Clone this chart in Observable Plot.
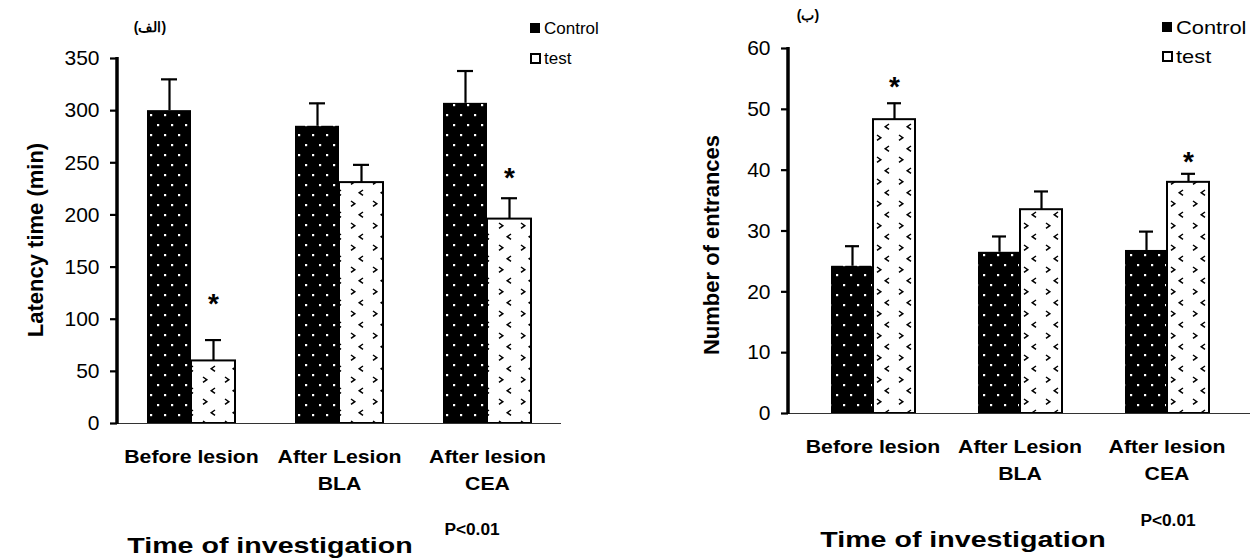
<!DOCTYPE html>
<html><head><meta charset="utf-8">
<script src="https://cdn.jsdelivr.net/npm/d3@7"></script>
<script src="https://cdn.jsdelivr.net/npm/@observablehq/plot@0.6"></script>
<style>
body{margin:0;background:#fff;font-family:"Liberation Sans",Arial,sans-serif;}
#wrap{position:relative;width:1253px;height:560px;overflow:hidden;background:#fff;}
.abs{position:absolute;white-space:nowrap;color:#000;line-height:1;}
</style></head><body><div id="wrap"></div>
<script>
// ---------- data ----------
const categories = ["Before lesion", "After Lesion\nBLA", "After lesion\nCEA"];
const series = ["Control", "test"];

const latencyControl    = [300, 285, 307];
const latencyControlErr = [30, 22, 31];
const latencyTest       = [60, 231, 196];
const latencyTestErr    = [20, 17, 20];
const latencyStars      = [122, null, 243];
const latencyTicks      = [0, 50, 100, 150, 200, 250, 300, 350];

const entrancesControl    = [24.2, 26.5, 26.8];
const entrancesControlErr = [3.3, 2.6, 3.1];
const entrancesTest       = [48.3, 33.5, 38.0];
const entrancesTestErr    = [2.7, 3.0, 1.4];
const entrancesStars      = [55, null, 42.6];
const entrancesTicks      = [0, 10, 20, 30, 40, 50, 60];

function rows(ctrl, ctrlErr, test, testErr, stars) {
  return categories.flatMap((c, i) => [
    {cat: c, series: series[0], value: ctrl[i], err: ctrlErr[i], star: null},
    {cat: c, series: series[1], value: test[i], err: testErr[i], star: stars[i]}
  ]);
}
const latencyData = rows(latencyControl, latencyControlErr, latencyTest, latencyTestErr, latencyStars);
const entranceData = rows(entrancesControl, entrancesControlErr, entrancesTest, entrancesTestErr, entrancesStars);

// ---------- drawing ----------
const wrap = document.getElementById("wrap");
const FONT = "Liberation Sans, Arial, sans-serif";

function defs() {
  return `<defs>
  <pattern id="dotPat" width="14" height="20" patternUnits="userSpaceOnUse">
    <rect width="14" height="20" fill="#000"/>
    <rect x="3" y="4" width="2.2" height="2.2" fill="#fff"/>
    <rect x="10" y="14" width="2.2" height="2.2" fill="#fff"/>
  </pattern>
  <pattern id="chevPat" width="22" height="22" patternUnits="userSpaceOnUse">
    <rect width="22" height="22" fill="#fff"/>
    <path d="M5,3 L8.8,5.7 L5,8.4" fill="none" stroke="#000" stroke-width="1.5"/>
    <path d="M17,14 L13.2,16.7 L17,19.4" fill="none" stroke="#000" stroke-width="1.5"/>
  </pattern></defs>`;
}

function panel(o) {
  const plot = Plot.plot({
    width: o.width, height: o.height,
    marginLeft: o.marginLeft, marginRight: o.marginRight,
    marginTop: o.marginTop, marginBottom: o.marginBottom,
    style: {fontFamily: FONT, color: "#000", background: "transparent", overflow: "visible"},
    fx: {domain: categories, padding: 0, label: null},
    x: {domain: series, paddingInner: 0, paddingOuter: o.xPadOuter, align: o.xAlign, axis: null},
    y: {domain: o.yDomain, label: null},
    marks: [
      Plot.axisY({ticks: o.ticks, tickSize: 7, tickPadding: 11, fontSize: 21, strokeWidth: 2.2, label: null}),
      Plot.axisFx({anchor: "bottom", tickSize: 0, tickPadding: o.catPad, dx: o.catDx, fontSize: 18, fontWeight: "bold", lineHeight: 1.5, label: null}),
      Plot.barY(o.data.filter(d => d.series === series[0]), {fx: "cat", x: "series", y: "value", fill: "url(#dotPat)"}),
      Plot.barY(o.data.filter(d => d.series === series[1]), {fx: "cat", x: "series", y: "value", fill: "url(#chevPat)", stroke: "#000", strokeWidth: 2}),
      Plot.ruleX(o.data, {fx: "cat", x: "series", y1: "value", y2: d => d.value + d.err, stroke: "#000", strokeWidth: 2.2}),
      Plot.tickY(o.data, {fx: "cat", x: "series", y: d => d.value + d.err, stroke: "#000", strokeWidth: 2.2, insetLeft: 14, insetRight: 14}),
      Plot.text(o.data.filter(d => d.star != null), {fx: "cat", x: "series", y: "star", text: () => "*", fontSize: 28, fontWeight: "bold", dy: 8})
    ]
  });
  plot.style.position = "absolute";
  plot.style.top = "0px";
  plot.style.left = o.left + "px";
  plot.insertAdjacentHTML("afterbegin", defs());
  const ys = plot.scale("y");
  const [yb, yt] = ys.range;
  const svg = d3.select(plot);
  // widen category tick labels like the reference's stretched type
  svg.selectAll('g[aria-label="fx-axis tick label"] text').each(function() {
    const t = this.getAttribute("transform") || "";
    this.setAttribute("transform", t + " scale(1.18,1)");
  });
  svg.append("line").attr("x1", o.marginLeft).attr("x2", o.width - o.marginRight + o.baseExtend)
    .attr("y1", yb + 0.5).attr("y2", yb + 0.5).attr("stroke", "#333").attr("stroke-width", 1.2);
  svg.append("line").attr("x1", o.marginLeft).attr("x2", o.marginLeft)
    .attr("y1", yb + 1).attr("y2", yt - 1).attr("stroke", "#000").attr("stroke-width", 3.5);
  wrap.appendChild(plot);
}

panel({data: latencyData, yDomain: [0, 350], ticks: latencyTicks, left: 0,
  width: 630, height: 503, marginLeft: 117, marginRight: 69, marginTop: 58, marginBottom: 80,
  xPadOuter: 0.68, xAlign: 0.5, catPad: 20, catDx: 0, baseExtend: 0});
panel({data: entranceData, yDomain: [0, 60], ticks: entrancesTicks, left: 630,
  width: 623, height: 493, marginLeft: 158, marginRight: 24, marginTop: 48, marginBottom: 80,
  xPadOuter: 0.71, xAlign: 0.69, catPad: 20, catDx: 11, baseExtend: 21});

function txt(s, x, y, size, weight, opts = {}) {
  const d = document.createElement("div");
  d.className = "abs";
  d.style.left = x + "px"; d.style.top = y + "px";
  d.style.fontSize = size + "px"; d.style.fontWeight = weight;
  const sx = opts.sx || 1;
  d.style.transform = opts.rot
    ? `translate(-50%,-50%) rotate(-90deg) scale(${sx},1)`
    : opts.left ? `translateY(-50%) scale(${sx},1)` : `translate(-50%,-50%) scale(${sx},1)`;
  if (opts.left) d.style.transformOrigin = "0 50%";
  if (opts.rtl) d.setAttribute("dir", "rtl");
  d.textContent = s;
  wrap.appendChild(d);
  return d;
}
// panel titles
txt("(الف)", 150, 27, 14, "bold", {rtl: true});
txt("(ب)", 808, 15, 14, "bold", {rtl: true});
// axis titles
txt("Latency time (min)", 36, 240, 22, "bold", {rot: true});
txt("Number of entrances", 712, 245, 22, "bold", {rot: true});
txt("Time of investigation", 270, 546, 22, "bold", {sx: 1.3});
txt("Time of investigation", 963, 540, 22, "bold", {sx: 1.3});
txt("P<0.01", 472, 530, 16, "bold", {sx: 1.08});
txt("P<0.01", 1168, 521, 16, "bold", {sx: 1.08});

// legends
function legend(x, y, gap, size, sx) {
  const items = [
    {label: series[0], fill: "#000", stroke: "#000"},
    {label: series[1], fill: "#fff", stroke: "#000"}
  ];
  items.forEach((it, i) => {
    const sw = document.createElement("div");
    sw.className = "abs";
    const solid = it.fill === "#000";
    sw.style.cssText += `left:${x}px;top:${y + i * gap - 5}px;width:${solid ? 10 : 7}px;height:${solid ? 10 : 7}px;background:${it.fill};border:${solid ? 0 : 2}px solid ${it.stroke};`;
    wrap.appendChild(sw);
    txt(it.label, x + 14, y + i * gap, size, "normal", {left: true, sx});
  });
}
legend(530, 28, 30, 17, 1);
legend(1162, 27, 29, 19, 1.15);
</script></body></html>
